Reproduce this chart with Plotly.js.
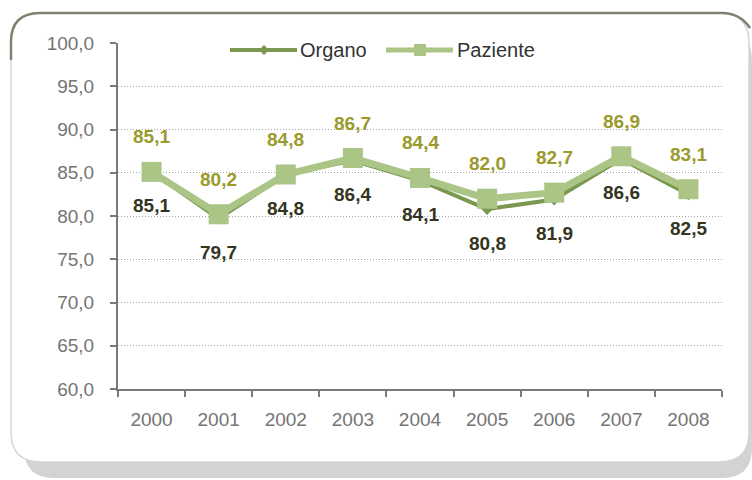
<!DOCTYPE html>
<html><head><meta charset="utf-8">
<script src="https://cdn.plot.ly/plotly-3.0.1.min.js"></script>
<style>html,body{margin:0;padding:0;background:#fff;}#chart{width:752px;height:480px;}</style>
</head><body><div id="chart"></div>
<script>
const years = ['2000','2001','2002','2003','2004','2005','2006','2007','2008'];
const organo = [85.1, 79.7, 84.8, 86.4, 84.1, 80.8, 81.9, 86.6, 82.5];
const paziente = [85.1, 80.2, 84.8, 86.7, 84.4, 82.0, 82.7, 86.9, 83.1];
const yTicks = [60, 65, 70, 75, 80, 85, 90, 95, 100];
const seriesNames = ['Organo', 'Paziente'];

const W = 752, H = 480, L = 118, R = 30, T = 43, B = 91;
const pw = W - L - R, ph = H - T - B;
const px = v => (v - L) / pw;
const py = v => (H - B - v) / ph;
const f = n => n.toFixed(5);
function rrect(x0, y0, x1, y1, r) {
  const rx = r / pw, ry = r / ph;
  const X0 = px(x0), X1 = px(x1), Y0 = py(y0), Y1 = py(y1);
  return `M ${f(X0+rx)} ${f(Y0)} L ${f(X1-rx)} ${f(Y0)} Q ${f(X1)} ${f(Y0)} ${f(X1)} ${f(Y0-ry)} ` +
         `L ${f(X1)} ${f(Y1+ry)} Q ${f(X1)} ${f(Y1)} ${f(X1-rx)} ${f(Y1)} L ${f(X0+rx)} ${f(Y1)} ` +
         `Q ${f(X0)} ${f(Y1)} ${f(X0)} ${f(Y1+ry)} L ${f(X0)} ${f(Y0-ry)} Q ${f(X0)} ${f(Y0)} ${f(X0+rx)} ${f(Y0)} Z`;
}
function diamond(cx, cy, r) {
  return `M ${f(px(cx))} ${f(py(cy - r))} L ${f(px(cx + r))} ${f(py(cy))} L ${f(px(cx))} ${f(py(cy + r))} L ${f(px(cx - r))} ${f(py(cy))} Z`;
}
const P = (x, y) => `${f(px(x))} ${f(py(y))}`;
const topBorder = `M ${P(11, 60)} L ${P(11, 42)} Q ${P(11, 13)} ${P(40, 13)} L ${P(722, 13)} Q ${P(740, 13)} ${P(750, 28)}`;

const fmt = v => v.toFixed(1).replace('.', ',');
const cOrg = '#7a9850', cPaz = '#aac585';
const FONT = 'Liberation Sans, Arial, sans-serif';

const traces = [
  {x: years, y: organo, name: seriesNames[0], type: 'scatter', mode: 'lines+markers', cliponaxis: false,
   line: {color: cOrg, width: 4}, marker: {symbol: 'diamond', size: 9, color: cOrg}},
  {x: years, y: paziente, name: seriesNames[1], type: 'scatter', mode: 'lines+markers', cliponaxis: false,
   line: {color: cPaz, width: 7}, marker: {symbol: 'square', size: 20, color: cPaz}}
];

const annotations = [];
years.forEach((yr, i) => {
  annotations.push({x: i, y: paziente[i], xref: 'x', yref: 'y', text: '<b>' + fmt(paziente[i]) + '</b>',
    showarrow: false, yshift: 35, font: {family: FONT, size: 19, color: '#9b9a2c'}});
  annotations.push({x: i, y: organo[i], xref: 'x', yref: 'y', text: '<b>' + fmt(organo[i]) + '</b>',
    showarrow: false, yshift: -34, font: {family: FONT, size: 19, color: '#35351f'}});
});
// custom legend
const legY = 50;
annotations.push({xref: 'paper', yref: 'paper', x: px(298), y: py(legY), xanchor: 'left', yanchor: 'middle',
  text: seriesNames[0], showarrow: false, font: {family: FONT, size: 20, color: '#333333'}});
annotations.push({xref: 'paper', yref: 'paper', x: px(455), y: py(legY), xanchor: 'left', yanchor: 'middle',
  text: seriesNames[1], showarrow: false, font: {family: FONT, size: 20, color: '#333333'}});

const layout = {
  width: W, height: H,
  margin: {l: L, r: R, t: T, b: B},
  paper_bgcolor: '#ffffff', plot_bgcolor: 'rgba(0,0,0,0)',
  separators: ',.',
  font: {family: FONT, size: 19, color: '#6a6a6a'},
  showlegend: false,
  xaxis: {type: 'category', range: [-0.5, 8.5], showgrid: false, showline: true, linecolor: '#7a7a7a', linewidth: 2,
    ticks: 'outside', tickson: 'boundaries', ticklen: 6, tickcolor: '#7a7a7a', tickwidth: 2,
    ticklabelstandoff: 12, tickfont: {size: 19, color: '#747474'}, zeroline: false},
  yaxis: {range: [60, 100], tickvals: yTicks, tickformat: '.1f', showgrid: true, gridcolor: '#a8a8a8',
    griddash: '1px,2px', gridwidth: 1, showline: true, linecolor: '#7a7a7a', linewidth: 2,
    ticks: 'outside', ticklen: 6, tickcolor: '#7a7a7a', tickwidth: 2, ticklabelstandoff: 12,
    tickfont: {size: 19, color: '#747474'}, zeroline: false},
  shapes: [
    {type: 'path', xref: 'paper', yref: 'paper', layer: 'below', path: rrect(24, 30, 752, 478, 30),
      fillcolor: '#d3d3d3', line: {width: 0}},
    {type: 'path', xref: 'paper', yref: 'paper', layer: 'below', path: rrect(11, 13, 749, 462, 30),
      fillcolor: '#ffffff', line: {color: '#d6d6d6', width: 1.5}},
    {type: 'path', xref: 'paper', yref: 'paper', layer: 'below', path: topBorder,
      fillcolor: 'rgba(0,0,0,0)', line: {color: '#808270', width: 2.5}},
    {type: 'line', xref: 'paper', yref: 'paper', x0: px(230), x1: px(297), y0: py(legY), y1: py(legY),
      line: {color: cOrg, width: 4}},
    {type: 'path', xref: 'paper', yref: 'paper', path: diamond(264, legY, 5), fillcolor: cOrg, line: {width: 0}},
    {type: 'line', xref: 'paper', yref: 'paper', x0: px(386), x1: px(453), y0: py(legY), y1: py(legY),
      line: {color: cPaz, width: 5}},
    {type: 'rect', xref: 'paper', yref: 'paper', x0: px(414), x1: px(426), y0: py(legY - 6), y1: py(legY + 6),
      fillcolor: cPaz, line: {width: 0}}
  ],
  annotations: annotations
};

Plotly.newPlot('chart', traces, layout, {displayModeBar: false, staticPlot: true});
</script></body></html>
